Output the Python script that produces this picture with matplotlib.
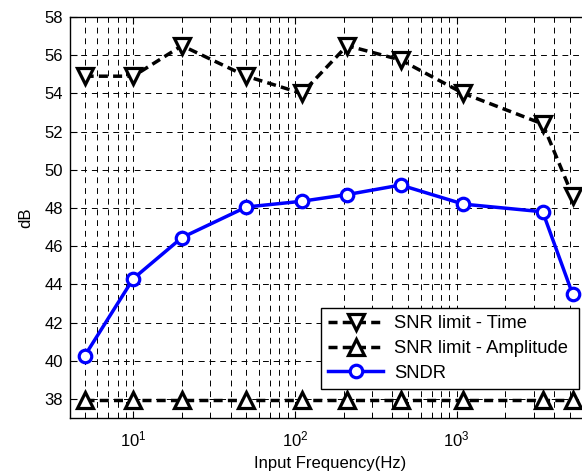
import matplotlib
matplotlib.use("Agg")
import matplotlib.pyplot as plt
from matplotlib.ticker import LogLocator, NullFormatter, MultipleLocator

plt.rcParams['font.family'] = ['Liberation Sans', 'DejaVu Sans']
plt.rcParams['mathtext.fontset'] = 'custom'
plt.rcParams['mathtext.rm'] = 'Liberation Sans'

freq = [5, 10, 20, 50, 110, 210, 450, 1100, 3400, 5200]
snr_time = [54.9, 54.9, 56.5, 54.9, 54.0, 56.5, 55.75, 54.0, 52.4, 48.65]
snr_amp = [37.95, 37.95, 37.95, 37.95, 37.95, 37.95, 37.95, 37.95, 37.95, 37.95]
sndr = [40.25, 44.3, 46.45, 48.05, 48.35, 48.7, 49.2, 48.2, 47.8, 43.5]

W, H = 582, 471
FS = 12
LFS = 13.2
fig = plt.figure(figsize=(W / 100, H / 100), dpi=100)
x0, x1, y0, y1 = 70, 590, 17, 418
ax = fig.add_axes([x0 / W, 1 - y1 / H, (x1 - x0) / W, (y1 - y0) / H])

ax.plot(freq, snr_time, 'k--', marker='v', ms=11, mew=2.3, mfc='white', lw=2.5,
        dashes=(2.6, 1.5), label='SNR limit - Time')
ax.plot(freq, snr_amp, 'k--', marker='^', ms=11, mew=2.3, mfc='white', lw=2.5,
        dashes=(2.6, 1.5), label='SNR limit - Amplitude')
ax.plot(freq, sndr, '-', color='#0000ff', marker='o', ms=9, mew=2.3, mfc='white',
        lw=2.5, label='SNDR')

ax.set_xscale('log')
ax.set_xlim(4.06, 6670)
ax.set_ylim(37, 58)
ax.yaxis.set_major_locator(MultipleLocator(2))
ax.xaxis.set_major_locator(LogLocator(base=10, numticks=10))
ax.xaxis.set_minor_locator(LogLocator(base=10, subs=range(2, 10), numticks=20))
ax.xaxis.set_minor_formatter(NullFormatter())

ax.grid(True, which='major', axis='both', color='black', linestyle=(0, (6, 5)), lw=0.7)
ax.grid(True, which='minor', axis='x', color='black', linestyle=(0, (6, 5)), lw=0.7)
ax.tick_params(which='both', direction='in', top=True, right=False, labelsize=FS)
ax.tick_params(which='major', length=5)
ax.tick_params(which='minor', length=3)
ax.tick_params(axis='x', which='major', pad=8)
ax.tick_params(axis='y', which='major', pad=5)
ax.spines['right'].set_visible(False)
for s in ['left', 'bottom', 'top']:
    ax.spines[s].set_linewidth(1.0)

ax.set_xlabel('Input Frequency(Hz)', fontsize=FS, labelpad=5)
ax.set_ylabel('dB', fontsize=FS, labelpad=8)

leg = ax.legend(loc='lower left',
                bbox_to_anchor=(321 / W, 1 - 389 / H, (579 - 321) / W, (389 - 305) / H),
                bbox_transform=fig.transFigure, mode='expand',
                fontsize=LFS, handlelength=3.0, fancybox=False, framealpha=1,
                edgecolor='black', borderpad=0.4, labelspacing=0.42,
                handletextpad=0.6, borderaxespad=0)
leg.get_frame().set_linewidth(1.0)

fig.savefig('out.png', dpi=100)
